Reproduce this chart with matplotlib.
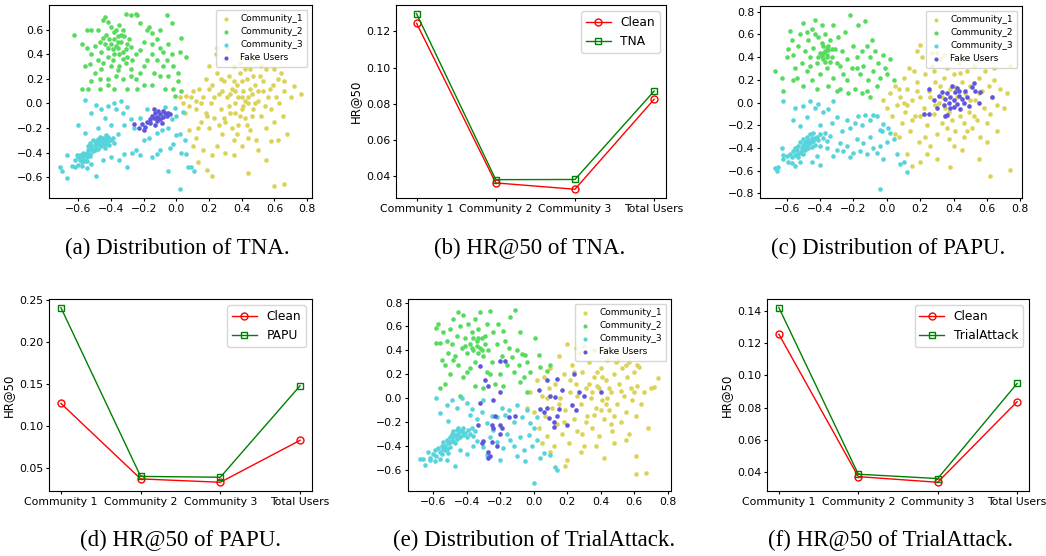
import numpy as np
import matplotlib
matplotlib.use("Agg")
import matplotlib.pyplot as plt

# ---- line plot data (HR@50 per community) ----
groups = ["Community 1", "Community 2", "Community 3", "Total Users"]
tna_clean = [0.1245, 0.0362, 0.0327, 0.0825]
tna_attack = [0.1298, 0.0380, 0.0381, 0.0870]
papu_clean = [0.127, 0.037, 0.033, 0.083]
papu_attack = [0.241, 0.040, 0.039, 0.148]
trial_clean = [0.1255, 0.0372, 0.0337, 0.0837]
trial_attack = [0.142, 0.0387, 0.036, 0.095]

# ---- scatter data (2-D embeddings) ----
community_names = ["Community_1", "Community_2", "Community_3", "Fake Users"]
community_colors = ["#dbd357", "#57db5f", "#57d3db", "#5f57db"]

# TNA
tna_c1 = [(0.02,0.05),(0.04,0.0),(0.05,-0.08),(0.06,0.06),(0.08,-0.02),(0.10,0.10),(0.12,0.02),(0.12,-0.05),
          (0.14,0.12),(0.15,-0.15),(0.16,0.05),(0.18,0.20),(0.18,-0.08),(0.20,0.30),(0.20,-0.20),(0.21,0.0),
          (0.22,0.15),(0.23,-0.12),(0.24,0.40),(0.25,0.25),(0.26,0.08),(0.27,-0.05),(0.28,-0.25),(0.29,0.18),
          (0.30,0.35),(0.30,-0.15),(0.31,0.05),(0.32,0.22),(0.33,-0.08),(0.34,0.12),(0.35,-0.30),(0.35,0.30),
          (0.36,0.0),(0.37,0.15),(0.38,-0.18),(0.39,0.25),(0.40,0.05),(0.40,-0.05),(0.41,0.10),(0.42,-0.12),
          (0.43,0.20),(0.44,0.0),(0.45,-0.22),(0.45,0.28),(0.46,0.08),(0.47,-0.05),(0.48,0.15),(0.49,-0.30),
          (0.50,0.02),(0.51,0.22),(0.52,-0.10),(0.53,0.10),(0.55,-0.20),(0.55,0.28),(0.56,0.05),(0.58,-0.05),
          (0.59,0.15),(0.60,-0.15),(0.62,0.20),(0.63,0.0),(0.65,-0.10),(0.66,0.10),(0.68,-0.25),(0.70,0.05),
          (0.72,0.14),(0.76,0.08),(0.60,-0.67),(0.66,-0.66),(0.44,-0.57),(0.22,-0.59),(0.19,-0.54),(0.13,-0.48),
          (0.55,-0.46),(0.58,-0.31),(0.10,-0.35),(0.08,-0.22),(0.12,-0.28),(0.16,-0.38),(0.22,-0.42),(0.25,-0.35),
          (0.30,-0.40),(0.35,-0.42),(0.40,-0.35),(0.44,-0.28),(0.50,-0.38),(0.25,0.45),(0.31,0.45),(0.39,0.33),
          (0.47,0.35),(0.52,0.30),(0.60,0.28),(0.64,0.25),(0.38,0.05),(0.42,0.02),(0.36,-0.08),(0.46,-0.10),
          (0.40,0.18),(0.33,0.08),(0.28,0.10),(0.48,0.00),(0.54,-0.02),(0.43,-0.18),(0.37,-0.25),(0.26,-0.18),
          (0.19,-0.10),(0.15,0.00),(0.09,0.05),(0.23,0.05),(0.62,-0.30),(0.41,-0.02),(0.45,0.12),(0.35,0.18),
          (0.50,0.10),(0.39,-0.10),(0.32,-0.02),(0.53,0.18),(0.57,0.12),(0.44,0.05),(0.36,0.10),(0.29,-0.12),
          (0.47,0.22),(0.42,0.28),(0.34,-0.20),(0.27,0.20),(0.61,0.05),(0.66,0.18),(0.20,0.12),(0.13,-0.20)]
tna_c2 = [(-0.63,0.56),(-0.55,0.60),(-0.52,0.60),(-0.48,0.60),(-0.45,0.68),(-0.44,0.70),(-0.42,0.66),(-0.40,0.62),
          (-0.38,0.58),(-0.36,0.55),(-0.35,0.64),(-0.33,0.60),(-0.31,0.73),(-0.28,0.72),(-0.25,0.73),(-0.24,0.72),
          (-0.22,0.65),(-0.18,0.60),(-0.17,0.62),(-0.06,0.72),(-0.03,0.65),(0.03,0.53),(-0.58,0.48),(-0.55,0.45),
          (-0.52,0.40),(-0.50,0.47),(-0.47,0.50),(-0.45,0.53),(-0.42,0.45),(-0.40,0.48),(-0.38,0.52),(-0.36,0.45),
          (-0.34,0.50),(-0.32,0.55),(-0.30,0.48),(-0.28,0.46),(-0.35,0.40),(-0.33,0.42),(-0.30,0.38),(-0.27,0.35),
          (-0.42,0.38),(-0.45,0.33),(-0.48,0.35),(-0.53,0.32),(-0.56,0.30),(-0.50,0.25),(-0.46,0.28),(-0.40,0.30),
          (-0.36,0.27),(-0.31,0.33),(-0.25,0.40),(-0.22,0.43),(-0.20,0.50),(-0.15,0.48),(-0.12,0.52),(-0.10,0.45),
          (-0.05,0.48),(-0.03,0.40),(0.02,0.42),(0.06,0.38),(-0.08,0.42),(-0.15,0.40),(-0.18,0.35),(-0.12,0.35),
          (-0.08,0.30),(-0.06,0.35),(-0.02,0.30),(0.01,0.25),(-0.05,0.22),(-0.10,0.22),(-0.14,0.25),(-0.22,0.25),
          (-0.25,0.20),(-0.28,0.22),(-0.33,0.20),(-0.37,0.22),(-0.42,0.20),(-0.47,0.20),(-0.52,0.18),(-0.58,0.12),
          (-0.54,0.12),(-0.47,0.12),(-0.42,0.15),(-0.38,0.12),(-0.30,0.12),(-0.24,0.12),(-0.20,0.15),(-0.15,0.15),
          (-0.07,0.12),(-0.02,0.12),(0.01,0.18),(-0.35,0.30),(-0.38,0.40),(-0.43,0.56),(-0.37,0.60),(-0.41,0.52),
          (-0.39,0.44),(-0.46,0.42),(-0.33,0.36),(-0.28,0.28),(-0.20,0.30),(-0.10,0.60),(-0.15,0.57),(-0.01,0.06),
          (0.03,0.10),(-0.36,0.50),(-0.34,0.56),(-0.31,0.44),(-0.39,0.35),(-0.44,0.48),(-0.29,0.52),(-0.37,0.47)]
tna_c3 = [(-0.60,-0.44),(-0.59,-0.46),(-0.58,-0.43),(-0.57,-0.45),(-0.56,-0.42),(-0.55,-0.44),(-0.55,-0.40),
          (-0.54,-0.38),(-0.53,-0.41),(-0.52,-0.37),(-0.52,-0.35),(-0.51,-0.39),(-0.50,-0.33),(-0.50,-0.36),
          (-0.49,-0.31),(-0.49,-0.34),(-0.48,-0.29),(-0.48,-0.37),(-0.47,-0.32),(-0.47,-0.27),(-0.46,-0.30),
          (-0.46,-0.35),(-0.45,-0.33),(-0.45,-0.28),(-0.44,-0.31),(-0.44,-0.36),(-0.43,-0.29),(-0.43,-0.33),
          (-0.42,-0.31),(-0.42,-0.27),(-0.41,-0.34),(-0.40,-0.30),(-0.39,-0.28),(-0.38,-0.32),(-0.53,-0.32),
          (-0.51,-0.30),(-0.54,-0.35),(-0.57,-0.40),(-0.61,-0.42),(-0.58,-0.48),(-0.56,-0.47),(-0.62,-0.46),
          (-0.60,-0.50),(-0.71,-0.52),(-0.70,-0.55),(-0.67,-0.61),(-0.67,-0.42),(-0.64,-0.51),(-0.62,-0.52),
          (-0.58,-0.51),(-0.55,-0.53),(-0.49,-0.59),(-0.52,-0.49),(-0.45,-0.46),(-0.40,-0.44),(-0.35,-0.46),
          (-0.32,-0.41),(-0.30,-0.52),(-0.27,-0.40),(-0.25,-0.38),(-0.22,-0.42),(-0.20,-0.30),(-0.17,-0.28),
          (-0.15,-0.44),(-0.12,-0.41),(-0.10,-0.38),(-0.05,-0.55),(-0.04,-0.36),(-0.02,-0.33),(0.0,-0.26),
          (0.02,-0.25),(0.05,-0.30),(0.03,-0.40),(0.06,-0.41),(0.07,-0.52),(0.09,-0.52),(0.11,-0.55),(0.02,-0.70),
          (-0.56,0.03),(-0.52,-0.08),(-0.49,-0.01),(-0.46,-0.05),(-0.42,-0.02),(-0.38,0.0),(-0.37,-0.05),
          (-0.34,0.02),(-0.33,-0.08),(-0.30,-0.03),(-0.28,-0.13),(-0.32,-0.18),(-0.40,-0.18),(-0.44,-0.12),
          (-0.48,-0.20),(-0.36,-0.25),(-0.26,-0.20),(-0.22,-0.12),(-0.18,-0.05),(-0.16,-0.15),(-0.12,-0.24),
          (-0.09,-0.22),(-0.05,-0.20),(-0.03,-0.13),(-0.01,-0.04),(0.0,-0.10),(0.04,-0.07),(-0.60,-0.18),
          (-0.56,-0.24),(-0.07,-0.03),(-0.47,-0.34),(-0.45,-0.30),(-0.50,-0.38),(-0.43,-0.26),(-0.53,-0.43),
          (-0.48,-0.32),(-0.41,-0.29),(-0.55,-0.47),(-0.59,-0.42)]
tna_fake = [(-0.26,-0.17),(-0.23,-0.20),(-0.21,-0.17),(-0.20,-0.22),(-0.19,-0.19),(-0.18,-0.15),(-0.16,-0.13),
            (-0.15,-0.10),(-0.14,-0.12),(-0.13,-0.08),(-0.12,-0.14),(-0.12,-0.11),(-0.11,-0.06),(-0.10,-0.13),
            (-0.10,-0.09),(-0.09,-0.16),(-0.08,-0.11),(-0.07,-0.08),(-0.06,-0.10),(-0.05,-0.08),(-0.04,-0.09),
            (-0.14,-0.05),(-0.16,-0.16),(-0.13,-0.18),(-0.08,-0.06),(-0.11,-0.12)]

# PAPU
papu_c1 = [(-0.02,0.02),(0.0,-0.05),(0.02,0.08),(0.03,-0.12),(0.05,0.15),(0.06,-0.02),(0.08,0.05),(0.09,-0.18),
           (0.10,0.22),(0.11,-0.08),(0.12,0.12),(0.14,-0.25),(0.15,0.02),(0.16,0.28),(0.17,-0.12),(0.18,0.18),
           (0.19,-0.35),(0.20,0.05),(0.21,0.40),(0.22,-0.05),(0.23,0.25),(0.24,-0.20),(0.25,0.10),(0.26,-0.38),
           (0.27,0.32),(0.28,-0.10),(0.29,0.18),(0.30,-0.28),(0.31,0.00),(0.32,0.38),(0.33,-0.18),(0.34,0.22),
           (0.35,-0.05),(0.36,0.30),(0.37,-0.32),(0.38,0.12),(0.39,-0.15),(0.40,0.25),(0.41,-0.25),(0.42,0.05),
           (0.43,0.35),(0.44,-0.12),(0.45,0.18),(0.46,-0.30),(0.47,0.08),(0.48,0.28),(0.49,-0.08),(0.50,0.15),
           (0.51,-0.22),(0.52,0.32),(0.53,0.02),(0.54,-0.15),(0.55,0.22),(0.56,-0.30),(0.57,0.10),(0.58,-0.05),
           (0.59,0.28),(0.60,-0.18),(0.61,0.15),(0.62,-0.10),(0.63,0.05),(0.64,0.20),(0.66,-0.02),(0.68,0.12),
           (0.70,-0.05),(0.72,0.08),(0.74,0.32),(0.74,-0.59),(0.62,-0.65),(0.55,-0.50),(0.38,-0.57),(0.20,-0.52),
           (0.15,-0.56),(0.30,-0.50),(0.45,-0.42),(0.12,-0.45),(0.24,-0.45),(0.07,-0.30),(0.18,0.45),(0.20,0.51),
           (0.27,0.44),(0.30,0.44),(0.34,0.42),(0.45,0.40),(0.55,0.38),(0.33,0.05),(0.37,-0.08),(0.41,0.14),
           (0.46,-0.18),(0.50,0.02),(0.29,-0.02),(0.26,0.05),(0.20,-0.12),(0.15,-0.15),(0.10,0.00),(0.05,-0.28),
           (0.13,0.30),(0.44,0.26),(0.60,-0.35),(0.66,-0.25),(0.32,0.15),(0.36,-0.22),(0.48,-0.25),(0.55,0.08),
           (0.23,-0.30),(0.18,0.10),(0.28,0.28),(0.40,-0.38),(0.52,-0.12),(0.64,0.30),(0.12,-0.02),(0.07,0.12)]
papu_c2 = [(-0.67,0.28),(-0.63,0.22),(-0.62,0.10),(-0.60,0.40),(-0.59,0.47),(-0.58,0.63),(-0.57,0.55),(-0.56,0.42),
           (-0.55,0.30),(-0.54,0.22),(-0.53,0.50),(-0.52,0.60),(-0.51,0.35),(-0.50,0.70),(-0.49,0.45),(-0.48,0.28),
           (-0.47,0.55),(-0.46,0.40),(-0.45,0.65),(-0.45,0.20),(-0.44,0.48),(-0.43,0.73),(-0.42,0.35),(-0.41,0.58),
           (-0.40,0.44),(-0.40,0.25),(-0.39,0.68),(-0.38,0.50),(-0.38,0.38),(-0.37,0.45),(-0.37,0.60),(-0.36,0.42),
           (-0.36,0.30),(-0.35,0.50),(-0.35,0.15),(-0.34,0.55),(-0.33,0.40),(-0.32,0.68),(-0.32,0.22),(-0.31,0.47),
           (-0.30,0.35),(-0.29,0.58),(-0.28,0.12),(-0.27,0.45),(-0.26,0.25),(-0.25,0.62),(-0.24,0.38),(-0.23,0.08),
           (-0.22,0.77),(-0.21,0.30),(-0.20,0.50),(-0.19,0.12),(-0.18,0.40),(-0.17,0.68),(-0.16,0.25),(-0.15,0.45),
           (-0.14,0.32),(-0.13,0.72),(-0.12,0.50),(-0.11,0.20),(-0.10,0.40),(-0.09,0.55),(-0.08,0.28),(-0.07,0.45),
           (-0.06,0.15),(-0.05,0.35),(-0.04,0.22),(-0.02,0.42),(0.0,0.25),(0.02,0.38),(0.04,0.20),(-0.10,0.05),
           (-0.15,0.08),(-0.30,0.10),(-0.42,0.12),(-0.50,0.15),(-0.56,0.20),(-0.46,0.32),(-0.41,0.40),(-0.39,0.52),
           (-0.36,0.48),(-0.34,0.36),(-0.28,0.32),(-0.43,0.60),(-0.48,0.62),(-0.24,0.20),(-0.18,0.30),(-0.12,0.10),
           (-0.01,0.30),(-0.38,0.44),(-0.36,0.40),(-0.35,0.46),(-0.39,0.41),(-0.37,0.36),(-0.33,0.47)]
papu_c3 = [(-0.62,-0.50),(-0.60,-0.47),(-0.59,-0.52),(-0.58,-0.45),(-0.57,-0.48),(-0.56,-0.43),(-0.55,-0.46),
           (-0.55,-0.40),(-0.54,-0.42),(-0.53,-0.38),(-0.52,-0.44),(-0.52,-0.35),(-0.51,-0.40),(-0.50,-0.37),
           (-0.50,-0.32),(-0.49,-0.42),(-0.49,-0.35),(-0.48,-0.30),(-0.48,-0.38),(-0.47,-0.33),(-0.47,-0.40),
           (-0.46,-0.28),(-0.46,-0.36),(-0.45,-0.31),(-0.45,-0.39),(-0.44,-0.34),(-0.44,-0.27),(-0.43,-0.37),
           (-0.42,-0.30),(-0.41,-0.33),(-0.40,-0.28),(-0.40,-0.38),(-0.38,-0.31),(-0.37,-0.27),(-0.36,-0.34),
           (-0.34,-0.29),(-0.53,-0.48),(-0.57,-0.53),(-0.50,-0.45),(-0.67,-0.58),(-0.66,-0.60),(-0.65,-0.57),
           (-0.63,-0.40),(-0.62,-0.46),(-0.55,-0.56),(-0.52,-0.52),(-0.45,-0.52),(-0.42,-0.47),(-0.40,-0.55),
           (-0.36,-0.40),(-0.32,-0.47),(-0.30,-0.42),(-0.28,-0.36),(-0.26,-0.43),(-0.24,-0.38),(-0.22,-0.48),
           (-0.20,-0.44),(-0.18,-0.32),(-0.16,-0.43),(-0.14,-0.36),(-0.12,-0.45),(-0.10,-0.30),(-0.08,-0.40),
           (-0.06,-0.44),(-0.04,-0.38),(-0.03,-0.25),(-0.02,-0.50),(0.0,-0.35),(0.02,-0.27),(0.04,-0.32),
           (0.06,-0.45),(0.08,-0.54),(0.10,-0.52),(0.12,-0.61),(-0.04,-0.76),(-0.62,0.01),(-0.55,-0.05),
           (-0.50,-0.03),(-0.48,-0.13),(-0.46,0.01),(-0.43,-0.05),(-0.41,-0.01),(-0.38,-0.08),(-0.35,-0.06),
           (-0.33,-0.18),(-0.30,-0.13),(-0.27,-0.25),(-0.24,-0.15),(-0.22,-0.22),(-0.19,-0.18),(-0.17,-0.12),
           (-0.15,-0.20),(-0.13,-0.11),(-0.10,-0.15),(-0.08,-0.11),(-0.06,-0.12),(-0.04,-0.24),(-0.02,-0.19),
           (0.01,-0.22),(-0.32,0.01),(-0.56,-0.15),(-0.52,-0.21),(-0.40,-0.20),(-0.49,-0.38),(-0.47,-0.36),
           (-0.51,-0.42),(-0.45,-0.34),(-0.43,-0.31),(-0.54,-0.45)]
papu_fake = [(0.22,-0.10),(0.25,-0.10),(0.25,0.12),(0.28,0.02),(0.30,-0.05),(0.31,0.06),(0.33,0.09),(0.34,-0.02),
             (0.35,0.03),(0.35,-0.12),(0.36,0.08),(0.37,0.00),(0.38,-0.05),(0.38,0.05),(0.39,0.15),(0.40,0.02),
             (0.40,-0.04),(0.41,0.09),(0.42,0.13),(0.42,-0.01),(0.43,0.06),(0.44,-0.06),(0.45,0.03),(0.46,0.00),
             (0.47,0.10),(0.48,0.05),(0.49,-0.03),(0.51,0.14),(0.52,0.17),(0.53,0.10),(0.55,0.00),(0.56,0.09),
             (0.63,0.05),(0.36,-0.11),(0.43,0.10)]

# TrialAttack
trial_c1 = [(-0.04,-0.08),(-0.02,0.05),(0.0,-0.12),(0.02,0.15),(0.03,-0.25),(0.05,0.02),(0.06,0.18),(0.07,-0.15),
            (0.08,-0.32),(0.09,0.08),(0.10,0.25),(0.11,-0.08),(0.12,-0.40),(0.13,0.12),(0.14,-0.22),(0.15,0.35),
            (0.16,0.00),(0.17,-0.30),(0.18,0.20),(0.19,-0.10),(0.20,0.45),(0.21,-0.38),(0.22,0.05),(0.23,0.28),
            (0.24,-0.18),(0.25,0.12),(0.26,-0.28),(0.27,0.38),(0.28,-0.05),(0.29,0.22),(0.30,-0.40),(0.31,0.08),
            (0.32,-0.15),(0.33,0.30),(0.34,0.00),(0.35,-0.25),(0.36,0.18),(0.37,-0.08),(0.38,0.10),(0.39,-0.32),
            (0.40,0.25),(0.41,-0.02),(0.42,-0.18),(0.43,0.15),(0.44,0.32),(0.45,-0.10),(0.46,0.05),(0.47,-0.28),
            (0.48,0.20),(0.49,0.30),(0.50,-0.05),(0.51,0.12),(0.52,-0.20),(0.53,0.25),(0.54,0.02),(0.55,-0.12),
            (0.56,0.18),(0.57,-0.30),(0.58,0.08),(0.59,-0.02),(0.60,0.22),(0.61,-0.15),(0.62,0.10),(0.63,0.26),
            (0.64,-0.05),(0.66,0.05),(0.68,-0.25),(0.70,0.08),(0.72,0.09),(0.74,0.17),(0.61,-0.64),(0.67,-0.63),
            (0.61,-0.49),(0.42,-0.50),(0.37,-0.40),(0.28,-0.45),(0.19,-0.57),(0.10,-0.45),(0.20,-0.52),(0.05,-0.38),
            (0.48,-0.38),(0.55,-0.35),(0.30,0.44),(0.25,0.42),(0.36,0.40),(0.44,0.40),(0.50,0.31),(0.57,0.30),
            (0.62,0.28),(0.35,0.05),(0.40,-0.10),(0.45,0.08),(0.38,0.22),(0.31,-0.20),(0.26,0.02),(0.48,-0.15),
            (0.43,-0.05),(0.22,0.15),(0.15,-0.05),(0.08,0.00),(0.33,0.12),(0.41,0.18),(0.36,-0.14),(0.46,-0.22),
            (0.52,0.06),(0.29,-0.30),(0.24,0.22),(0.55,0.28),(0.44,0.00),(0.39,0.08),(0.18,-0.20),(0.60,0.05)]
trial_c2 = [(-0.58,0.59),(-0.58,0.46),(-0.57,0.62),(-0.56,0.46),(-0.55,0.32),(-0.54,0.55),(-0.53,0.28),(-0.52,0.48),
            (-0.51,0.38),(-0.50,0.58),(-0.50,0.20),(-0.49,0.45),(-0.48,0.66),(-0.47,0.35),(-0.46,0.52),(-0.45,0.72),
            (-0.45,0.28),(-0.44,0.60),(-0.43,0.42),(-0.42,0.70),(-0.42,0.18),(-0.41,0.50),(-0.40,0.38),(-0.39,0.62),
            (-0.38,0.45),(-0.38,0.25),(-0.37,0.55),(-0.36,0.40),(-0.35,0.66),(-0.35,0.30),(-0.34,0.48),(-0.33,0.58),
            (-0.32,0.42),(-0.32,0.72),(-0.31,0.50),(-0.30,0.35),(-0.29,0.45),(-0.28,0.62),(-0.28,0.22),(-0.27,0.40),
            (-0.26,0.73),(-0.25,0.30),(-0.24,0.55),(-0.23,0.12),(-0.22,0.45),(-0.21,0.62),(-0.20,0.20),(-0.19,0.35),
            (-0.18,0.56),(-0.17,0.48),(-0.16,0.28),(-0.15,0.42),(-0.14,0.68),(-0.13,0.34),(-0.12,0.22),(-0.11,0.74),
            (-0.10,0.40),(-0.09,0.28),(-0.08,0.55),(-0.07,0.37),(-0.06,0.18),(-0.05,0.36),(-0.04,0.30),(-0.02,0.22),
            (0.01,0.50),(0.03,0.36),(0.04,0.26),(-0.35,0.10),(-0.40,0.22),(-0.48,0.32),(-0.53,0.12),(-0.56,0.08),
            (-0.44,0.02),(-0.30,0.08),(-0.18,0.10),(-0.08,0.13),(-0.04,0.05),(-0.26,0.20),(-0.36,0.50),(-0.41,0.44),
            (-0.33,0.38),(0.08,0.23),(0.10,0.28),(-0.34,0.44),(-0.31,0.40),(-0.29,0.52),(-0.37,0.42),(-0.33,0.50)]
trial_c3 = [(-0.60,-0.47),(-0.59,-0.44),(-0.58,-0.49),(-0.57,-0.42),(-0.56,-0.45),(-0.55,-0.40),(-0.54,-0.43),
            (-0.54,-0.37),(-0.53,-0.40),(-0.52,-0.35),(-0.52,-0.43),(-0.51,-0.38),(-0.50,-0.33),(-0.50,-0.41),
            (-0.49,-0.30),(-0.49,-0.36),(-0.48,-0.33),(-0.48,-0.28),(-0.47,-0.38),(-0.47,-0.31),(-0.46,-0.27),
            (-0.46,-0.34),(-0.45,-0.30),(-0.45,-0.25),(-0.44,-0.33),(-0.43,-0.28),(-0.42,-0.31),(-0.42,-0.25),
            (-0.41,-0.29),(-0.40,-0.33),(-0.39,-0.27),(-0.38,-0.30),(-0.37,-0.25),(-0.36,-0.32),(-0.35,-0.28),
            (-0.55,-0.47),(-0.51,-0.46),(-0.62,-0.50),(-0.68,-0.51),(-0.66,-0.51),(-0.65,-0.56),(-0.63,-0.45),
            (-0.62,-0.52),(-0.59,-0.53),(-0.56,-0.51),(-0.52,-0.52),(-0.47,-0.57),(-0.44,-0.44),(-0.40,-0.47),
            (-0.36,-0.40),(-0.34,-0.36),(-0.30,-0.41),(-0.28,-0.48),(-0.26,-0.33),(-0.24,-0.27),(-0.22,-0.37),
            (-0.20,-0.52),(-0.18,-0.42),(-0.16,-0.30),(-0.14,-0.35),(-0.12,-0.40),(-0.10,-0.49),(-0.08,-0.33),
            (-0.06,-0.44),(-0.05,-0.53),(-0.03,-0.31),(-0.01,-0.40),(0.02,-0.35),(0.04,-0.50),(0.06,-0.46),
            (0.10,-0.48),(0.13,-0.58),(0.14,-0.60),(0.0,-0.71),(-0.58,0.0),(-0.52,-0.06),(-0.49,-0.02),
            (-0.46,-0.08),(-0.43,0.0),(-0.40,-0.04),(-0.37,-0.09),(-0.34,-0.18),(-0.31,-0.12),(-0.28,-0.21),
            (-0.25,-0.15),(-0.22,-0.16),(-0.19,-0.08),(-0.17,-0.14),(-0.15,-0.10),(-0.12,-0.20),(-0.10,-0.06),
            (-0.07,-0.16),(-0.04,-0.10),(-0.02,-0.21),(0.0,-0.25),(0.02,-0.16),(-0.56,-0.13),(-0.51,-0.19),
            (-0.38,-0.14),(-0.30,-0.02),(-0.48,-0.36),(-0.46,-0.31),(-0.50,-0.37),(-0.44,-0.28),(-0.53,-0.44)]
trial_fake = [(-0.32,0.27),(-0.29,0.15),(-0.27,0.10),(-0.20,0.31),(-0.17,0.31),(-0.20,0.05),(-0.24,-0.02),
              (-0.32,-0.04),(-0.23,-0.15),(-0.30,-0.36),(-0.31,-0.38),(-0.27,-0.45),(-0.27,-0.50),(-0.26,-0.49),
              (-0.25,-0.37),(-0.22,-0.40),(-0.20,-0.30),(-0.25,-0.23),(-0.24,-0.25),(-0.20,-0.23),(-0.19,-0.25),
              (-0.33,-0.23),(-0.15,-0.16),(-0.11,-0.15),(0.03,0.07),(0.04,-0.09),(0.06,-0.12),(0.08,-0.08),
              (0.08,0.15),(0.09,-0.17),(0.10,0.02),(0.12,-0.20),(0.12,-0.24),(0.13,0.01),(0.14,0.16),(0.14,-0.15),
              (0.15,-0.09),(0.17,0.07),(0.20,-0.23),(0.23,-0.06),(0.24,0.20),(0.25,-0.10),(0.27,0.05),(0.30,0.02),
              (0.40,0.05)]

TICK_FS = 7.8


def style_ticks(ax):
    ax.tick_params(labelsize=TICK_FS, length=2.5, pad=1.8)


def draw_scatter(ax, sets, xlim, ylim, yticks):
    for pts, name, col in zip(sets, community_names, community_colors):
        pts = np.array(pts)
        ax.scatter(pts[:, 0], pts[:, 1], s=11, color=col, linewidths=0, label=name)
    ax.set_xlim(*xlim)
    ax.set_ylim(*ylim)
    ax.set_xticks(np.round(np.arange(-0.6, 0.81, 0.2), 1))
    ax.set_yticks(yticks)
    style_ticks(ax)
    ax.legend(loc="upper right", fontsize=6.5, handlelength=1.2, handletextpad=1.0,
              borderpad=0.5, labelspacing=0.45, markerscale=0.9)


def draw_lines(ax, clean, attack, attack_name):
    x = np.arange(len(groups))
    ax.plot(x, clean, "-o", color="red", lw=1, ms=5, mfc="none", mew=1, label="Clean")
    ax.plot(x, attack, "-s", color="green", lw=1, ms=5, mfc="none", mew=1, label=attack_name)
    ax.set_xticks(x)
    ax.set_xticklabels(groups)
    ax.set_ylabel("HR@50", fontsize=8.5, labelpad=3)
    style_ticks(ax)
    ax.legend(loc="upper right", fontsize=8.8, handlelength=2.0)


fig = plt.figure(figsize=(10.46, 5.56), dpi=100)
W, H = 1046, 556


def add_axes(l, t, r, b):
    return fig.add_axes([l / W, 1 - b / H, (r - l) / W, (b - t) / H])


ax_a = add_axes(49, 5, 312, 198)
ax_b = add_axes(396, 5, 666, 198)
ax_c = add_axes(760, 6, 1022, 198)
ax_d = add_axes(49, 299, 312, 491)
ax_e = add_axes(408, 299, 671, 491)
ax_f = add_axes(767, 299, 1029, 491)

yt6 = np.round(np.arange(-0.6, 0.61, 0.2), 1)
yt8 = np.round(np.arange(-0.8, 0.81, 0.2), 1)
draw_scatter(ax_a, [tna_c1, tna_c2, tna_c3, tna_fake], (-0.78, 0.83), (-0.77, 0.80), yt6)
draw_lines(ax_b, tna_clean, tna_attack, "TNA")
ax_b.set_xlim(-0.26, 3.15)
draw_scatter(ax_c, [papu_c1, papu_c2, papu_c3, papu_fake], (-0.76, 0.81), (-0.84, 0.85), yt8)
draw_lines(ax_d, papu_clean, papu_attack, "PAPU")
draw_scatter(ax_e, [trial_c1, trial_c2, trial_c3, trial_fake], (-0.75, 0.82), (-0.78, 0.83),
             np.round(np.arange(-0.6, 0.81, 0.2), 1))
draw_lines(ax_f, trial_clean, trial_attack, "TrialAttack")

captions = ["(a) Distribution of TNA.", "(b) HR@50 of TNA.", "(c) Distribution of PAPU.",
            "(d) HR@50 of PAPU.", "(e) Distribution of TrialAttack.", "(f) HR@50 of TrialAttack."]
cap_x = [177, 530, 888, 180, 534, 890]
cap_y = [248, 248, 248, 540, 540, 540]
for txt, cx, cy in zip(captions, cap_x, cap_y):
    fig.text(cx / W, 1 - cy / H, txt, ha="center", va="center",
             fontsize=16.5, family="Liberation Serif")

fig.savefig("out.png", dpi=100)
